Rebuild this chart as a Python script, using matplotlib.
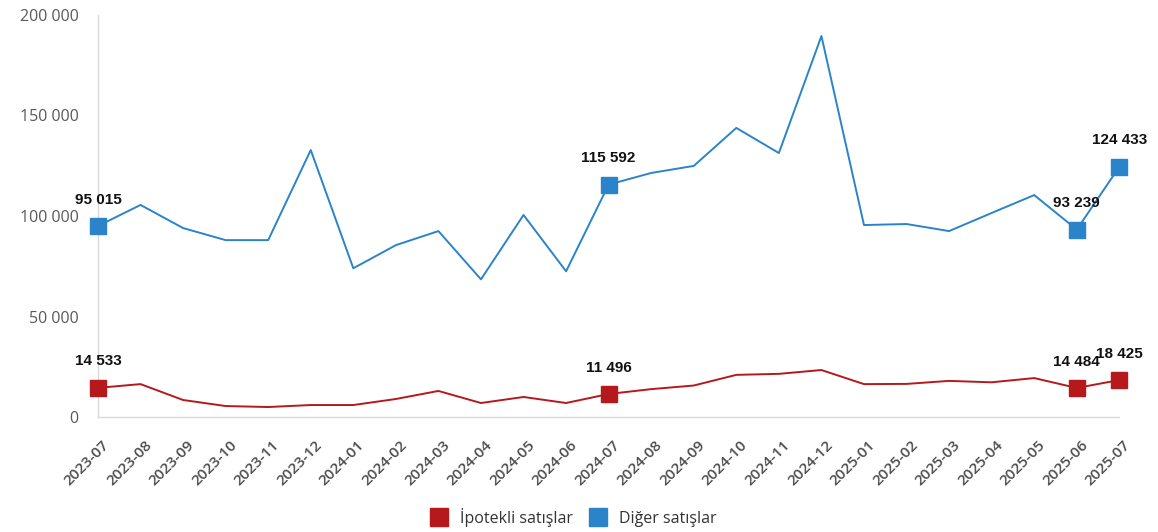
import matplotlib
matplotlib.use("Agg")
import matplotlib.pyplot as plt
from matplotlib.ticker import FuncFormatter, MultipleLocator
from matplotlib.lines import Line2D
from matplotlib.transforms import ScaledTranslation

months = ["2023-07", "2023-08", "2023-09", "2023-10", "2023-11", "2023-12",
          "2024-01", "2024-02", "2024-03", "2024-04", "2024-05", "2024-06",
          "2024-07", "2024-08", "2024-09", "2024-10", "2024-11", "2024-12",
          "2025-01", "2025-02", "2025-03", "2025-04", "2025-05", "2025-06",
          "2025-07"]

ipotekli = [14533, 16400, 8500, 5500, 5000, 6000, 6000, 9000, 13000, 7000,
            10000, 7000, 11496, 13900, 15700, 21000, 21500, 23400, 16400,
            16500, 18000, 17300, 19400, 14484, 18425]

diger = [95015, 105500, 94000, 88000, 88000, 132800, 74000, 85500, 92500,
         68500, 100500, 72500, 115592, 121400, 124900, 143800, 131300, 189500,
         95500, 96000, 92500, 101500, 110400, 93239, 124433]

labelled = [0, 12, 23, 24]

RED = "#b5191c"
BLUE = "#2b83c9"
TEXT_GRAY = "#595959"

fig = plt.figure(figsize=(11.58, 5.32), dpi=100)
ax = fig.add_axes([0.0846, 0.216, 0.882, 0.756])

x = list(range(len(months)))

ax.plot(x, diger, color=BLUE, lw=1.4, clip_on=False, zorder=3)
ax.plot(x, ipotekli, color=RED, lw=1.4, clip_on=False, zorder=3)

for series, color in ((diger, BLUE), (ipotekli, RED)):
    ax.plot([x[i] for i in labelled], [series[i] for i in labelled],
            ls="none", marker="s", ms=12, color=color, mec=color,
            clip_on=False, zorder=4)
    for i in labelled:
        txt = f"{series[i]:,}".replace(",", " ")
        ax.annotate(txt, (x[i], series[i]), xytext=(0, 19),
                    textcoords="offset points", ha="center", va="center",
                    fontsize=11, fontweight="bold", color="#111111",
                    family="Liberation Sans", zorder=5)

ax.set_xlim(0, 24)
ax.set_ylim(0, 200000)
ax.yaxis.set_major_locator(MultipleLocator(50000))
ax.yaxis.set_major_formatter(FuncFormatter(lambda v, p: f"{int(v):,}".replace(",", " ")))
ax.set_xticks(x)
ax.set_xticklabels(months, rotation=45, ha="right", rotation_mode="anchor")

for side in ("top", "right"):
    ax.spines[side].set_visible(False)
for side in ("left", "bottom"):
    ax.spines[side].set_color("#d9d9d9")
    ax.spines[side].set_linewidth(1.0)

ax.tick_params(axis="both", length=0, colors=TEXT_GRAY, labelsize=11.5)
ax.tick_params(axis="y", pad=14)
ax.tick_params(axis="x", pad=15, labelsize=11)
shift = ScaledTranslation(4 / 100, 0, fig.dpi_scale_trans)
for lbl in ax.get_xticklabels():
    lbl.set_transform(lbl.get_transform() + shift)
    lbl.set_fontweight("semibold")
    lbl.set_color("#4d4d4d")
for lbl in ax.get_xticklabels() + ax.get_yticklabels():
    lbl.set_family("Open Sans")
for lbl in ax.get_yticklabels():
    lbl.set_color(TEXT_GRAY)

handles = [Line2D([], [], ls="none", marker="s", ms=13, color=RED),
           Line2D([], [], ls="none", marker="s", ms=13, color=BLUE)]
leg = fig.legend(handles, ["İpotekli satışlar", "Diğer satışlar"],
                 loc="center", bbox_to_anchor=(0.492, 0.028), ncol=2,
                 frameon=False, handletextpad=0.3, columnspacing=0.6,
                 prop={"family": "Open Sans", "size": 11.5})
for t in leg.get_texts():
    t.set_color("#333333")

fig.savefig("out.png", dpi=100, facecolor="white")
